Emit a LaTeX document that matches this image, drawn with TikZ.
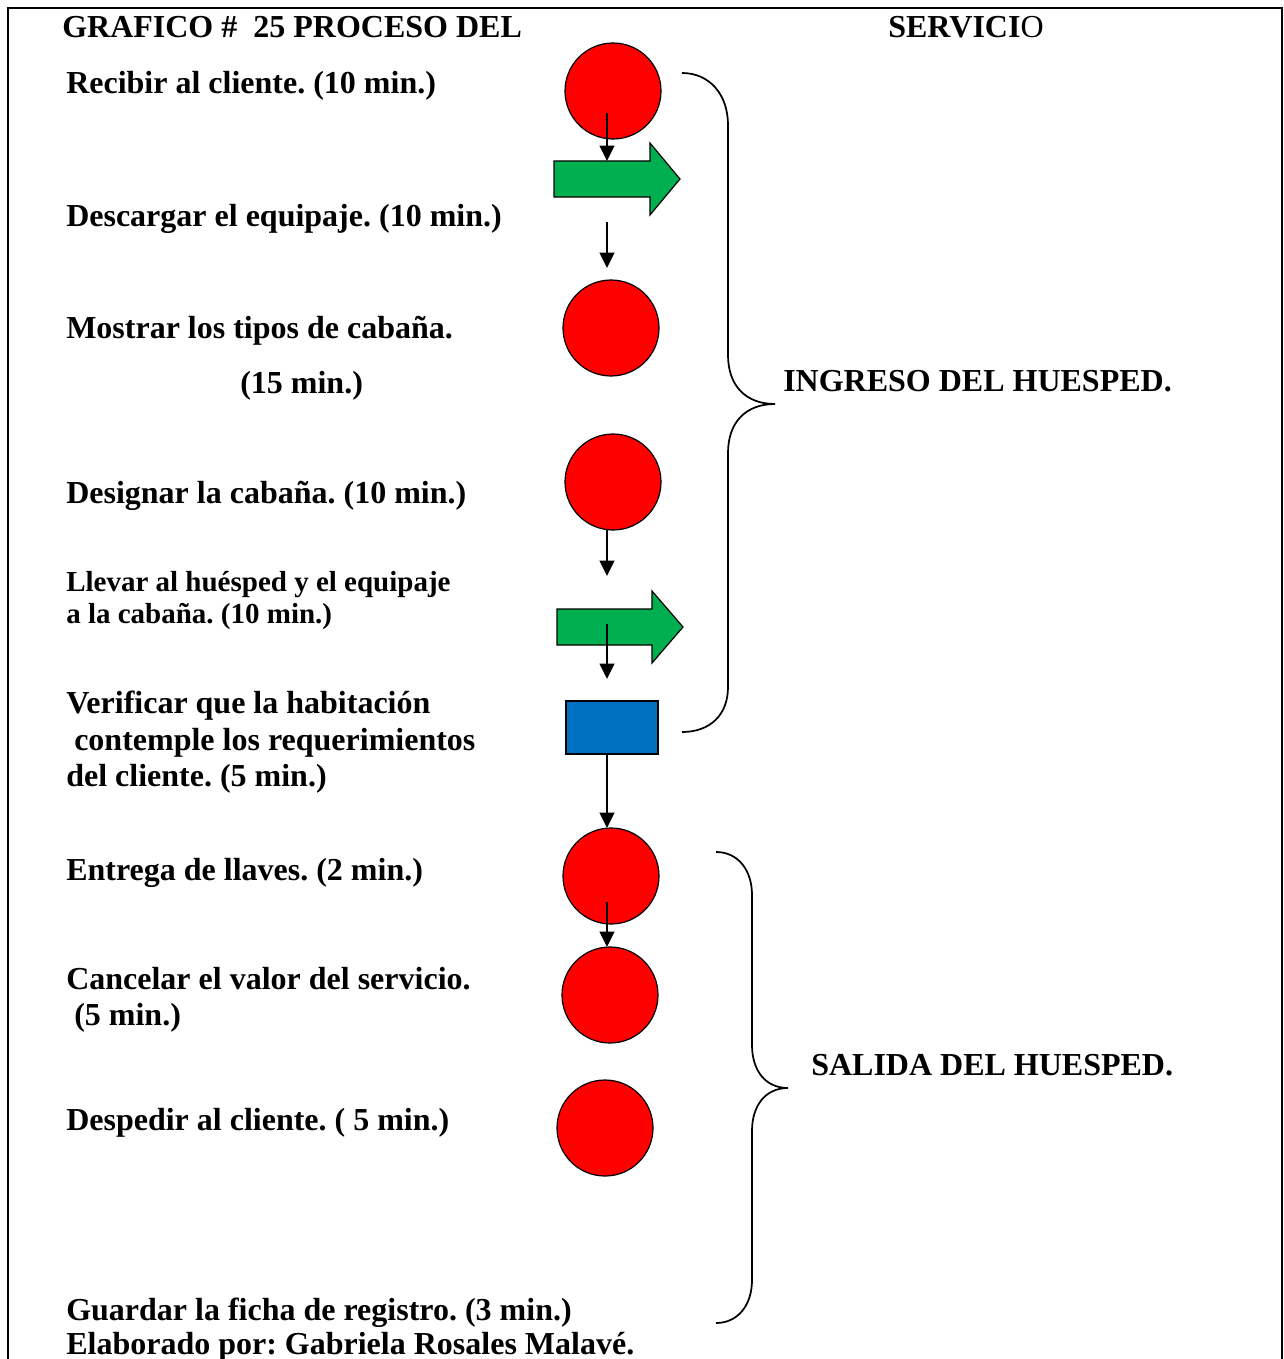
\documentclass[tikz,border=0pt]{standalone}
\usepackage{fontspec}
\setmainfont{Liberation Serif}
\usetikzlibrary{arrows.meta}
\definecolor{cred}{HTML}{FF0000}
\definecolor{cgreen}{HTML}{00B050}
\definecolor{cblue}{HTML}{0070C0}
\tikzset{
  lbl/.style={anchor=base west, inner sep=0pt, font=\fontsize{24}{28}\selectfont\bfseries\frenchspacing},
  lblsmall/.style={anchor=base west, inner sep=0pt, font=\fontsize{21.75}{25}\selectfont\bfseries\frenchspacing},
  opcircle/.style={circle, draw=black, line width=0.9pt, fill=cred, minimum size=72pt, inner sep=0pt},
  inspect/.style={rectangle, draw=black, line width=0.9pt, fill=cblue, minimum width=69pt, minimum height=39.75pt, inner sep=0pt},
  transport/.style={draw=black, line width=0.9pt, fill=cgreen, line join=miter},
  flow/.style={line width=1.7pt, -{Triangle[length=11.5pt,width=11pt]}},
  bracestyle/.style={line width=1.3pt},
  frame/.style={line width=1.5pt}
}
\begin{document}
\frenchspacing
\begin{tikzpicture}[x=0.75pt,y=-0.75pt]
\useasboundingbox (0,0) rectangle (1284,1359);
\draw[frame] (8,1362) -- (8,8) -- (1282,8) -- (1282,1362);

% title
\node[lbl] (t1) at (62,38) {GRAFICO \#~ 25 PROCESO DEL};
\node[lbl] (t2) at (888,38) {SERVICI{\mdseries O}};

% left texts
\node[lbl] (l1) at (66,94) {Recibir al cliente. (10 min.)};
\node[lbl] (l2) at (66,226) {Descargar el equipaje. (10 min.)};
\node[lbl] (l3) at (66,338) {Mostrar los tipos de cabaña.};
\node[lbl] (l3b) at (240,393) {(15 min.)};
\node[lbl] (l4) at (66,503) {Designar la cabaña. (10 min.)};
\node[lblsmall] (l5) at (66,591) {Llevar al huésped y el equipaje};
\node[lblsmall] (l5b) at (66,623) {a la cabaña. (10 min.)};
\node[lbl] (l6) at (66,713) {Verificar que la habitación};
\node[lbl] (l6b) at (74,750) {contemple los requerimientos};
\node[lbl] (l6c) at (66,786) {del cliente. (5 min.)};
\node[lbl] (l7) at (66,880) {Entrega de llaves. (2 min.)};
\node[lbl] (l8) at (66,989) {Cancelar el valor del servicio.};
\node[lbl] (l8b) at (74,1025) {(5 min.)};
\node[lbl] (l9) at (66,1130) {Despedir al cliente. ( 5 min.)};
\node[lbl] (l10) at (66,1320) {Guardar la ficha de registro. (3 min.)};
\node[lbl] (l11) at (66,1354) {Elaborado por: Gabriela Rosales Malavé.};

\node[lbl] (g1) at (783,391) {INGRESO DEL HUESPED.};
\node[lbl] (g2) at (811,1075) {SALIDA DEL HUESPED.};

% shapes
\node[opcircle] (c1) at (613,91) {};
\draw[transport] (554,161) -- (650,161) -- (650,143) -- (680,179) -- (650,215) -- (650,197) -- (554,197) -- cycle;
\coordinate (tr1) at (554,161);
\node[opcircle] (c2) at (611,328) {};
\node[opcircle] (c3) at (613,482) {};
\draw[transport] (557,609) -- (652,609) -- (652,591) -- (683,627) -- (652,663) -- (652,645) -- (557,645) -- cycle;
\coordinate (tr2) at (557,609);
\node[inspect] (r1) at (612,727.5) {};
\node[opcircle] (c4) at (611,876) {};
\node[opcircle] (c5) at (610,995) {};
\node[opcircle] (c6) at (605,1128) {};

% connectors
\coordinate (a1s) at (607,113); \coordinate (a1e) at (607,161);
\coordinate (a2s) at (607,222); \coordinate (a2e) at (607,268);
\coordinate (a3s) at (607,530); \coordinate (a3e) at (607,576);
\coordinate (a4s) at (607,624); \coordinate (a4e) at (607,679);
\coordinate (a5s) at (607,754); \coordinate (a5e) at (607,828);
\coordinate (a6s) at (607,902); \coordinate (a6e) at (607,947);
\draw[flow] (a1s) -- (a1e);
\draw[flow] (a2s) -- (a2e);
\draw[flow] (a3s) -- (a3e);
\draw[flow] (a4s) -- (a4e);
\draw[flow] (a5s) -- (a5e);
\draw[flow] (a6s) -- (a6e);

% braces
\draw[bracestyle] (682,73) .. controls (710,73) and (728,95) .. (728,125) -- (728,355)
  .. controls (728,385) and (745,404) .. (775,404)
  .. controls (745,404) and (728,423) .. (728,453) -- (728,687)
  .. controls (728,715) and (710,732) .. (682,732);
\draw[bracestyle] (716,852) .. controls (738,852) and (752,870) .. (752,895) -- (752,1045)
  .. controls (752,1070) and (765,1088) .. (788,1088)
  .. controls (765,1088) and (752,1106) .. (752,1131) -- (752,1280)
  .. controls (752,1305) and (738,1323) .. (716,1323);
\end{tikzpicture}
\end{document}
